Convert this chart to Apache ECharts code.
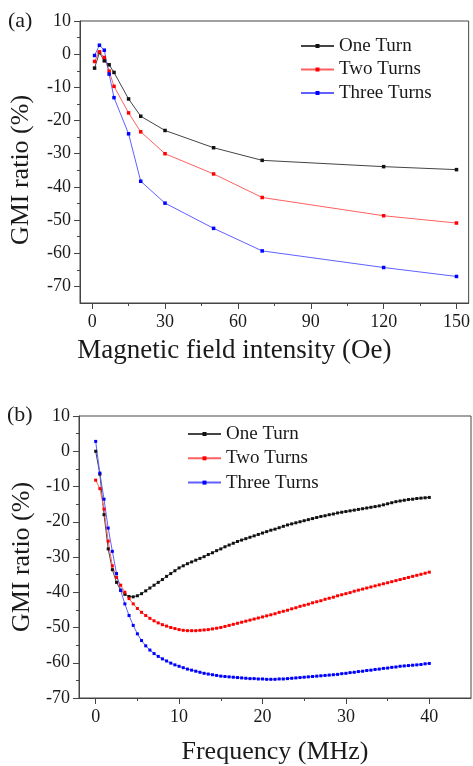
<!DOCTYPE html>
<html>
<head>
<meta charset="utf-8">
<script src="https://cdn.jsdelivr.net/npm/echarts@6/dist/echarts.min.js"></script>
<style>html,body{margin:0;padding:0;background:#fff;}#c{width:473px;height:766px;}</style>
</head>
<body>
<div id="c"></div>
<script>
// ---- Panel (a): GMI ratio vs magnetic field ----
const fieldOe = [1, 3, 5, 7, 9, 15, 20, 30, 50, 70, 120, 150];
const fieldOneTurn = [-4.2, 0.5, -2.0, -3.2, -5.5, -13.5, -18.7, -23.0, -28.2, -32.0, -33.9, -34.8];
const fieldTwoTurns = [-2.2, 0.7, -1.0, -5.1, -9.7, -17.7, -23.4, -30.0, -36.1, -43.2, -48.7, -50.9];
const fieldThreeTurns = [-0.4, 2.7, 1.2, -6.0, -13.1, -24.0, -38.3, -44.9, -52.5, -59.3, -64.3, -67.0];

// ---- Panel (b): GMI ratio vs frequency ----
const freqMHz = [0,0.5,1,1.5,2,2.5,3,3.5,4,4.5,5,5.5,6,6.5,7,7.5,8,8.5,9,9.5,10,10.5,11,11.5,12,12.5,13,13.5,14,14.5,15,15.5,16,16.5,17,17.5,18,18.5,19,19.5,20,20.5,21,21.5,22,22.5,23,23.5,24,24.5,25,25.5,26,26.5,27,27.5,28,28.5,29,29.5,30,30.5,31,31.5,32,32.5,33,33.5,34,34.5,35,35.5,36,36.5,37,37.5,38,38.5,39,39.5,40];
const freqOneTurn = [0,-6.5,-18,-27.7,-33.6,-37.2,-39.4,-40.6,-41.2,-41.3,-41.0,-40.4,-39.6,-38.8,-38.0,-37.2,-36.4,-35.5,-34.7,-33.9,-33.1,-32.5,-31.9,-31.4,-30.9,-30.4,-29.9,-29.3,-28.8,-28.2,-27.7,-27.1,-26.6,-26.1,-25.6,-25.2,-24.8,-24.4,-24.0,-23.6,-23.2,-22.8,-22.4,-22.1,-21.7,-21.3,-20.9,-20.6,-20.3,-20.0,-19.7,-19.4,-19.1,-18.8,-18.5,-18.3,-18.0,-17.8,-17.5,-17.3,-17.1,-16.9,-16.7,-16.5,-16.3,-16.1,-15.9,-15.7,-15.5,-15.2,-14.9,-14.6,-14.3,-14.1,-13.9,-13.7,-13.6,-13.4,-13.3,-13.2,-13.1];
const freqTwoTurns = [-8.2,-10.6,-16.4,-25.5,-32.5,-35.8,-38.0,-40.0,-41.8,-43.3,-44.6,-45.7,-46.6,-47.4,-48.1,-48.7,-49.2,-49.6,-50.0,-50.3,-50.6,-50.8,-50.9,-50.9,-50.9,-50.8,-50.7,-50.6,-50.4,-50.2,-50.0,-49.7,-49.4,-49.1,-48.8,-48.5,-48.2,-47.9,-47.6,-47.3,-47.0,-46.7,-46.4,-46.1,-45.7,-45.4,-45.1,-44.7,-44.4,-44.0,-43.7,-43.4,-43.0,-42.7,-42.4,-42.0,-41.7,-41.4,-41.0,-40.7,-40.4,-40.1,-39.7,-39.4,-39.1,-38.8,-38.5,-38.2,-37.9,-37.6,-37.3,-37.0,-36.7,-36.4,-36.1,-35.8,-35.5,-35.2,-34.9,-34.6,-34.3];
const freqThreeTurns = [2.8,-6.2,-13.6,-21.8,-28.4,-34.7,-39.5,-43.3,-46.6,-49.4,-51.8,-53.7,-55.2,-56.4,-57.4,-58.2,-58.9,-59.5,-60.1,-60.6,-61.0,-61.4,-61.8,-62.1,-62.4,-62.7,-63.0,-63.2,-63.4,-63.6,-63.8,-63.9,-64.0,-64.1,-64.2,-64.3,-64.4,-64.5,-64.5,-64.6,-64.6,-64.7,-64.7,-64.7,-64.6,-64.6,-64.5,-64.4,-64.3,-64.2,-64.1,-64.0,-63.9,-63.8,-63.7,-63.6,-63.5,-63.4,-63.3,-63.1,-63.0,-62.8,-62.7,-62.5,-62.4,-62.2,-62.1,-61.9,-61.8,-61.6,-61.5,-61.3,-61.2,-61.0,-60.9,-60.8,-60.7,-60.6,-60.5,-60.3,-60.2];

// ---- tick labels ----
const topXTicks = [0, 30, 60, 90, 120, 150];
const topXMinor = [15, 45, 75, 105, 135];
const topYTicks = [-70, -60, -50, -40, -30, -20, -10, 0, 10];
const topYMinor = [-65, -55, -45, -35, -25, -15, -5, 5];
const botXTicks = [0, 10, 20, 30, 40];
const botXMinor = [5, 15, 25, 35];
const botYTicks = [-70, -60, -50, -40, -30, -20, -10, 0, 10];
const botYMinor = [-65, -55, -45, -35, -25, -15, -5, 5];

const seriesNames = ['One Turn', 'Two Turns', 'Three Turns'];
const markColors = ['#111111', '#ff0000', '#0000ff'];
const lineColors = ['#444444', '#ff6060', '#6060ff'];

const FONT = '"Liberation Serif", "Times New Roman", serif';
const TXT = '#1a1a1a';
const AX = '#444';

function pairs(xs, ys) { return xs.map((x, i) => [x, ys[i]]); }

function mainX(gi, min, max, ticks, name, nameGap, nameSize, namePad) {
  return {
    type: 'value', gridIndex: gi, min: min, max: max, position: 'bottom',
    name: name, nameLocation: 'middle', nameGap: nameGap,
    nameTextStyle: { fontFamily: FONT, fontSize: nameSize, color: TXT, padding: namePad },
    axisLine: { show: true, onZero: false, lineStyle: { color: AX, width: 1 } },
    axisTick: { show: true, length: 6, customValues: ticks, lineStyle: { color: AX } },
    axisLabel: { show: true, customValues: ticks, margin: 10, fontFamily: FONT, fontSize: 18, color: TXT },
    splitLine: { show: false }
  };
}
function minorX(gi, min, max, ticks) {
  return {
    type: 'value', gridIndex: gi, min: min, max: max, position: 'bottom',
    axisLine: { show: false, onZero: false },
    axisTick: { show: true, length: 3, customValues: ticks, lineStyle: { color: AX } },
    axisLabel: { show: false }, splitLine: { show: false }
  };
}
function mainY(gi, min, max, ticks, name, nameGap, namePad) {
  return {
    type: 'value', gridIndex: gi, min: min, max: max, position: 'left',
    name: name, nameLocation: 'middle', nameGap: nameGap, nameRotate: 90,
    nameTextStyle: { fontFamily: FONT, fontSize: 26, color: TXT, padding: namePad },
    axisLine: { show: true, onZero: false, lineStyle: { color: AX, width: 1 } },
    axisTick: { show: true, length: 6, customValues: ticks, lineStyle: { color: AX } },
    axisLabel: { show: true, customValues: ticks, margin: 9, fontFamily: FONT, fontSize: 18, color: TXT },
    splitLine: { show: false }
  };
}
function minorY(gi, min, max, ticks) {
  return {
    type: 'value', gridIndex: gi, min: min, max: max, position: 'left',
    axisLine: { show: false, onZero: false },
    axisTick: { show: true, length: 3, customValues: ticks, lineStyle: { color: AX } },
    axisLabel: { show: false }, splitLine: { show: false }
  };
}

const topData = [fieldOneTurn, fieldTwoTurns, fieldThreeTurns];
const botData = [freqOneTurn, freqTwoTurns, freqThreeTurns];

const series = [];
seriesNames.forEach((nm, i) => {
  series.push({
    name: nm, type: 'line', xAxisIndex: 0, yAxisIndex: 0,
    data: pairs(fieldOe, topData[i]),
    symbol: 'rect', symbolSize: 3.5, showSymbol: true,
    lineStyle: { color: lineColors[i], width: 1 },
    itemStyle: { color: markColors[i] },
    emphasis: { disabled: true }
  });
});
seriesNames.forEach((nm, i) => {
  series.push({
    name: nm, type: 'line', xAxisIndex: 2, yAxisIndex: 2,
    data: pairs(freqMHz, botData[i]),
    symbol: 'rect', symbolSize: 3, showSymbol: true,
    lineStyle: { color: lineColors[i], width: 1 },
    itemStyle: { color: markColors[i] },
    emphasis: { disabled: true }
  });
});

function legendAt(left, top, gap) {
  return {
    left: left, top: top,
    orient: 'vertical', padding: 0, itemWidth: 33, itemHeight: 5, itemGap: gap,
    selectedMode: false,
    textStyle: { fontFamily: FONT, fontSize: 19, color: TXT, lineHeight: 20 },
    data: seriesNames
  };
}

const option = {
  animation: false,
  backgroundColor: '#fff',
  grid: [
    { left: 80, right: 4, top: 21, height: 282, show: true, borderColor: AX, borderWidth: 1, backgroundColor: 'transparent' },
    { left: 79, right: 2, top: 416, height: 287, show: true, borderColor: AX, borderWidth: 1, backgroundColor: 'transparent' }
  ],
  xAxis: [
    mainX(0, -5, 155, topXTicks, 'Magnetic field intensity (Oe)', 34, 27, [0, 80, 0, 0]),
    minorX(0, -5, 155, topXMinor),
    mainX(1, -2, 45, botXTicks, 'Frequency (MHz)', 41, 26, 0),
    minorX(1, -2, 45, botXMinor)
  ],
  yAxis: [
    mainY(0, -75, 10, topYTicks, 'GMI ratio (%)', 46, [0, 16, 0, 0]),
    minorY(0, -75, 10, topYMinor),
    mainY(1, -70, 10, botYTicks, 'GMI ratio (%)', 44, 0),
    minorY(1, -70, 10, botYMinor)
  ],
  legend: [
    legendAt(300, 36, 3.5),
    legendAt(187, 424, 4.3)
  ],
  graphic: [
    { type: 'text', left: 8, top: 10, style: { text: '(a)', font: '22px ' + FONT, fill: TXT } },
    { type: 'text', left: 7, top: 404, style: { text: '(b)', font: '22px ' + FONT, fill: TXT } }
  ],
  series: series
};

const chart = echarts.init(document.getElementById('c'), null, { renderer: 'canvas' });
chart.setOption(option);
</script>
</body>
</html>
